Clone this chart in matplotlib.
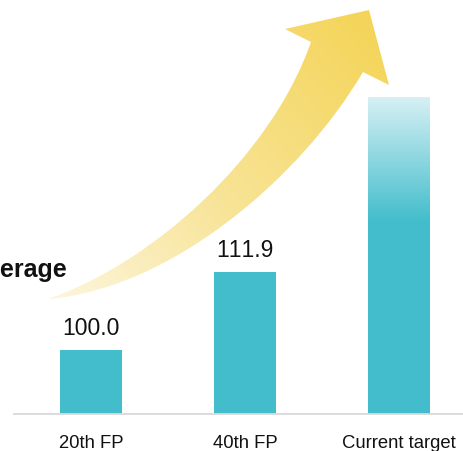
import matplotlib
matplotlib.use("Agg")
import matplotlib.pyplot as plt
import numpy as np
from matplotlib.path import Path
from matplotlib.patches import PathPatch
from matplotlib.colors import LinearSegmentedColormap

plt.rcParams['font.family'] = ['Liberation Sans', 'DejaVu Sans']
plt.rcParams['text.kerning_factor'] = 10   # bez kerningu "11"

# dane
categories = ["20th FP", "40th FP", "Current target"]
values = [100.0, 111.9, 138.5]
value_labels = ["100.0", "111.9", ""]
side_title = "Average"

BAR = "#43bdcc"
W, H = 464, 452

fig = plt.figure(figsize=(W / 100, H / 100), dpi=100)

# tło ze strzałką (współrzędne w pikselach)
bg = fig.add_axes([0, 0, 1, 1], zorder=0)
bg.set_xlim(0, W)
bg.set_ylim(H, 0)
bg.axis("off")

verts = [
    (48, 300), (170, 290), (300, 180), (363, 73),   # dolna krawędź
    (389, 86), (369, 11), (285, 30), (311, 43),      # grot
    (270, 160), (150, 265), (48, 300),               # górna krawędź
    (48, 300),
]
codes = [Path.MOVETO, Path.CURVE4, Path.CURVE4, Path.CURVE4,
         Path.LINETO, Path.LINETO, Path.LINETO, Path.LINETO,
         Path.CURVE4, Path.CURVE4, Path.CURVE4, Path.CLOSEPOLY]
arrow = PathPatch(Path(verts, codes), facecolor="none", edgecolor="none",
                  transform=bg.transData)
bg.add_patch(arrow)

yy, xx = np.mgrid[0:H, 0:W]
d = np.array([369 - 48, 11 - 300], dtype=float)
t = ((xx - 48) * d[0] + (yy - 300) * d[1]) / (d @ d)
t = np.clip(t, 0, 1)
yel = LinearSegmentedColormap.from_list(
    "yel", [(0, "#fdf6de"), (0.45, "#f8e497"), (1, "#f4d457")])
im = bg.imshow(t, cmap=yel, extent=(0, W, H, 0), aspect="auto",
               interpolation="bilinear", zorder=1)
im.set_clip_path(arrow)

bg.text(67.5, 270, side_title, ha="right", va="center",
        fontsize=18, fontweight="bold", color="#111111")

# wykres słupkowy
ax = fig.add_axes([14 / W, (H - 414.5) / H, 1 - 14 / W, 414.5 / H], zorder=2)
ax.patch.set_alpha(0)

x = np.arange(len(categories))
bars = ax.bar(x, values, width=0.40, bottom=0, color=BAR, zorder=2)

# gradient na górze ostatniego słupka
y_lo, y_hi = 90.24, 90.24 + 414.5 / 6.555
last = bars[-1]
grad = np.linspace(1, 0, 200).reshape(-1, 1)
teal = LinearSegmentedColormap.from_list("teal", ["#43bdcc", "#d6f0f4"])
g = ax.imshow(grad, cmap=teal, aspect="auto",
              extent=(x[-1] - 0.2, x[-1] + 0.2, 119.5, values[-1]),
              zorder=3, interpolation="bilinear")
g.set_clip_path(last)

for xi, v, lab in zip(x, values, value_labels):
    if lab:
        ax.annotate(lab, (xi, v), xytext=(0, 11), textcoords="offset points",
                    ha="center", va="baseline", fontsize=16.5, color="#111111")

ax.set_xlim(-0.5, (W - 91) / 154)
ax.set_ylim(y_lo, y_hi)
ax.set_xticks(x)
ax.set_xticklabels(categories, fontsize=13.3, color="#111111")
ax.tick_params(axis="x", length=0, pad=14.5)
ax.set_yticks([])
for s in ["top", "left", "right"]:
    ax.spines[s].set_visible(False)
ax.spines["bottom"].set_color("#d9d9d9")
ax.spines["bottom"].set_linewidth(1.3)

fig.savefig("out.png", dpi=100)
